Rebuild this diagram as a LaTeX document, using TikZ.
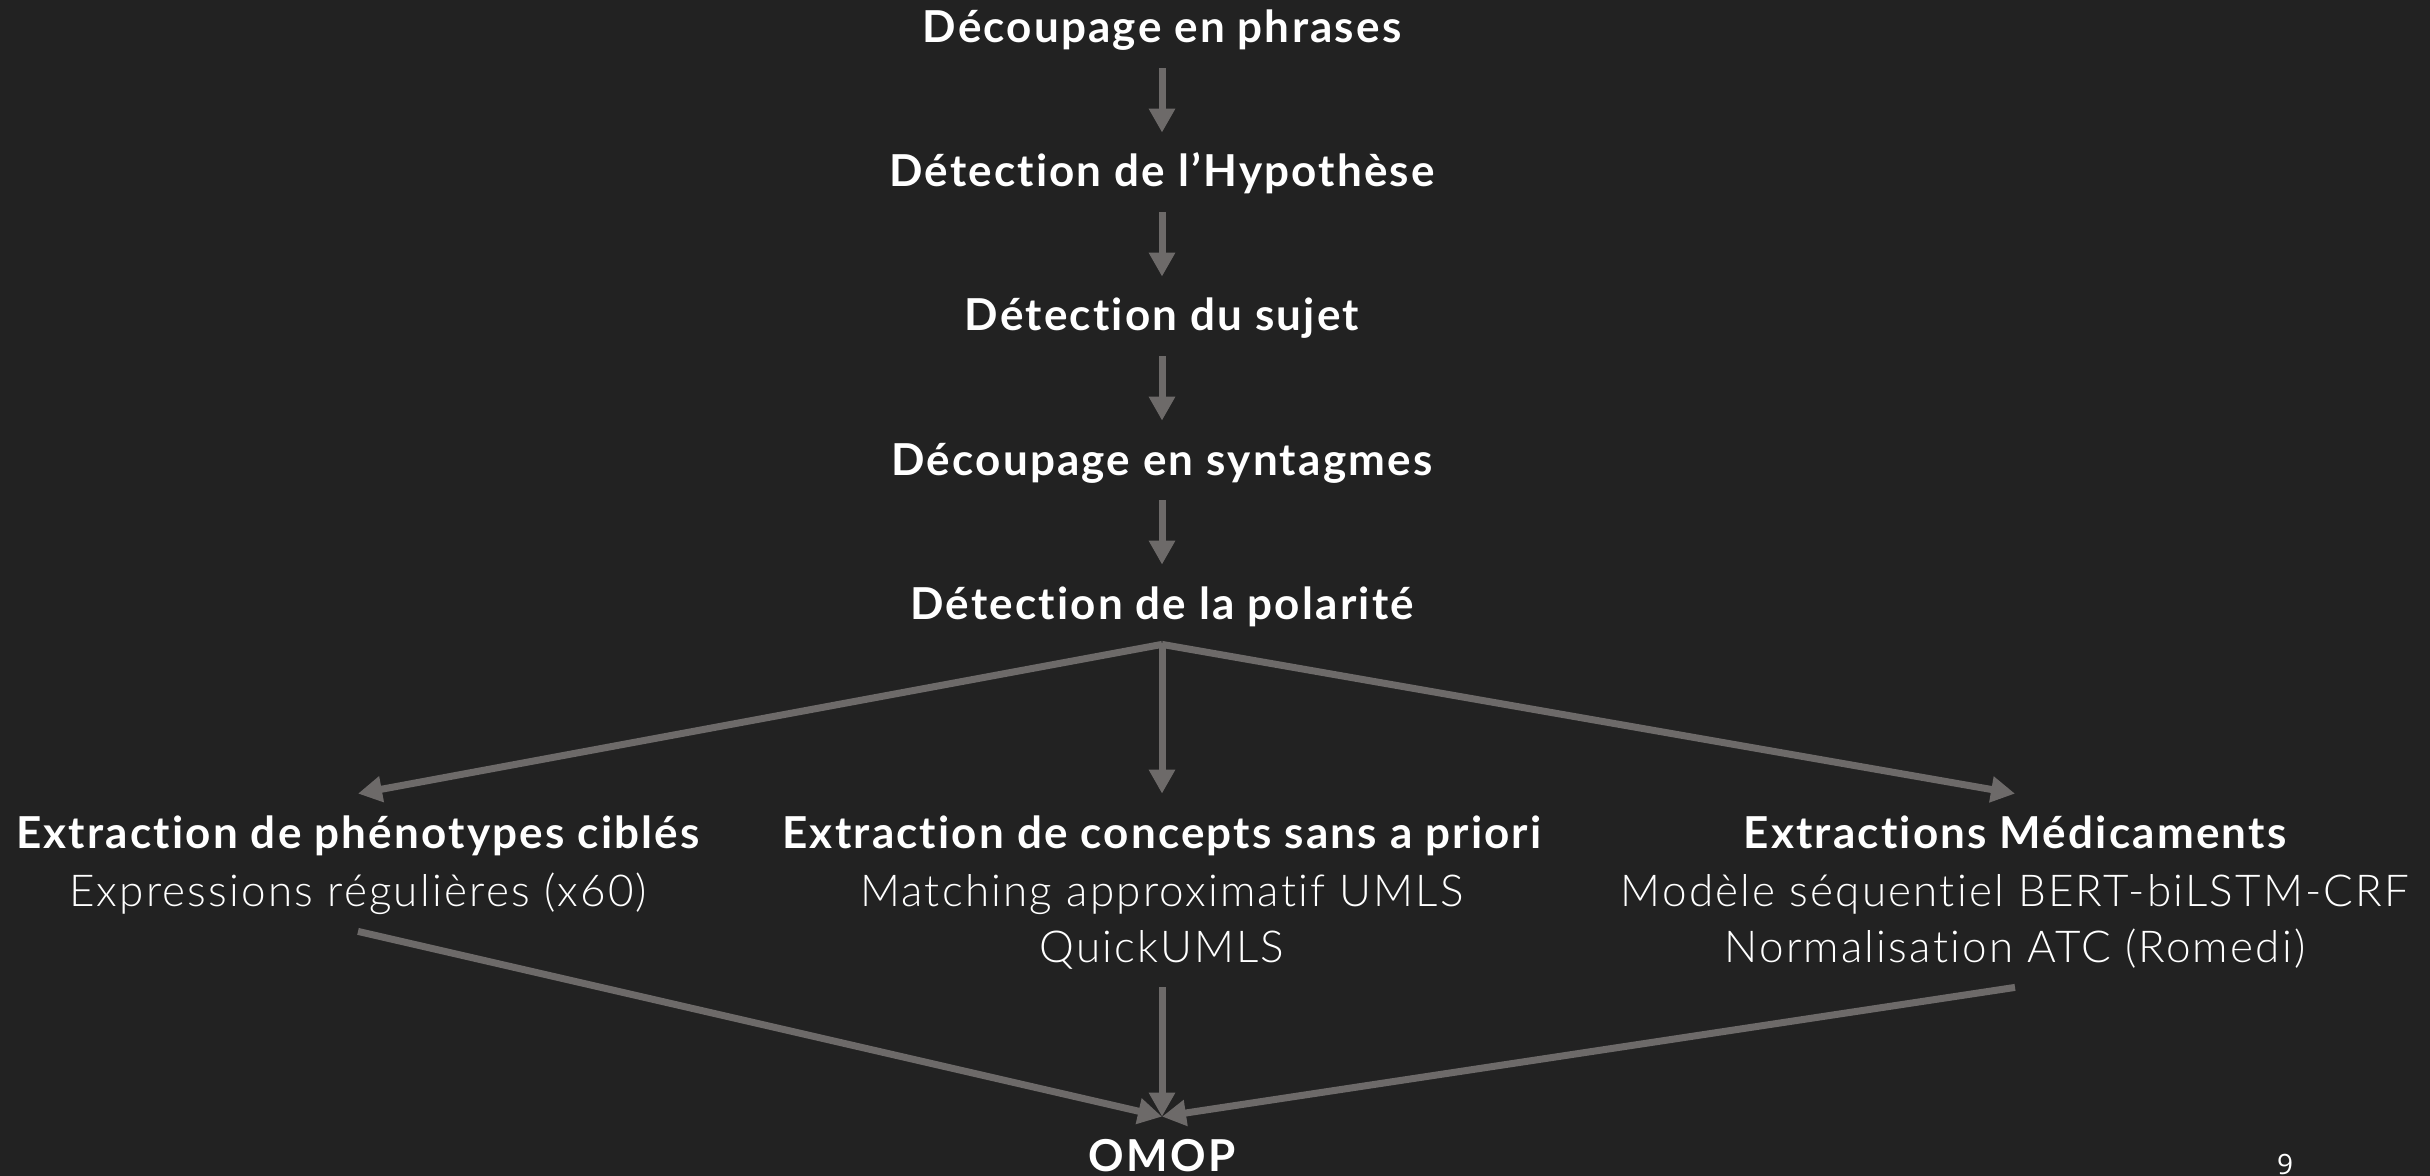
\documentclass[tikz,border=0pt]{standalone}
\usepackage{fontspec}
\setmainfont{Lato}[LetterSpace=5,RawFeature=-liga]
\newfontfamily\lightfont{Lato Light}[LetterSpace=5,RawFeature=-liga]
\newfontfamily\numfont{Open Sans}
\usetikzlibrary{arrows.meta}
\definecolor{bgc}{HTML}{222222}
\definecolor{arrc}{HTML}{6D6A69}
\tikzset{
  lbl/.style={anchor=base, text=white, text height=20.5pt, text depth=6pt, inner ysep=6.5pt, inner xsep=0pt, font=\fontsize{22}{26}\selectfont},
  ttl/.style={lbl, font=\fontsize{22}{26}\selectfont\bfseries},
  sub/.style={lbl, font=\fontsize{22}{26}\selectfont\lightfont},
  arr/.style={draw=arrc, line width=3.5pt, -{Triangle[width=12.5pt,length=12pt]}}
}
\begin{document}
\begin{tikzpicture}[x=0.5pt,y=-0.5pt]
\fill[bgc] (0,0) rectangle (2430,1176);
\useasboundingbox (0,0) rectangle (2430,1176);
\node[ttl] (n1) at (1162,43) {Découpage en phrases};
\node[ttl] (n2) at (1162,187) {Détection de l’Hypothèse};
\node[ttl] (n3) at (1162,331) {Détection du sujet};
\node[ttl] (n4) at (1162,475) {Découpage en syntagmes};
\node[ttl] (n5) at (1162,619) {Détection de la polarité};
\node[ttl] (t1) at (358,848) {Extraction de phénotypes ciblés};
\node[ttl] (t2) at (1162,848) {Extraction de concepts sans a priori};
\node[ttl] (t3) at (2015,848) {Extractions Médicaments};
\node[sub] (s1) at (358,906) {Expressions régulières (x60)};
\node[sub] (s2a) at (1162,906) {Matching approximatif UMLS};
\node[sub] (s2b) at (1162,962) {QuickUMLS};
\node[sub] (s3a) at (2015,906) {Modèle séquentiel BERT-biLSTM-CRF};
\node[sub] (s3b) at (2015,962) {Normalisation ATC (Romedi)};
\node[ttl] (om) at (1162,1171) {OMOP};
\node[anchor=base, text=white, inner sep=0pt, font=\fontsize{14}{16}\selectfont\numfont] (pg) at (2285,1174) {9};
\draw[arr] (n1.south) -- (n2.north);
\draw[arr] (n2.south) -- (n3.north);
\draw[arr] (n3.south) -- (n4.north);
\draw[arr] (n4.south) -- (n5.north);
\draw[arr] (n5.south) -- (t1.north);
\draw[arr] (n5.south) -- (t2.north);
\draw[arr] (n5.south) -- (t3.north);
\draw[arr] (s1.south) -- (om.north);
\draw[arr] (s2b.south) -- (om.north);
\draw[arr] (s3b.south) -- (om.north);
\end{tikzpicture}
\end{document}
